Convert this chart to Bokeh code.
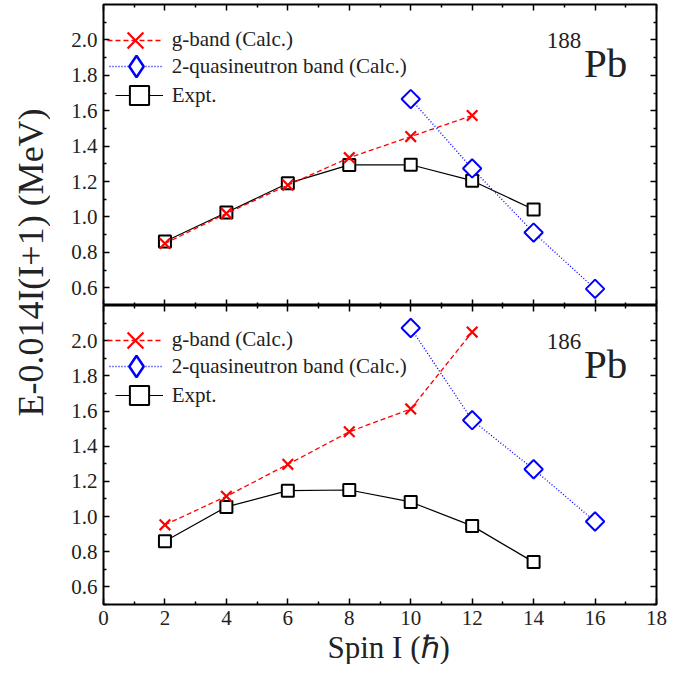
import math
from bokeh.plotting import figure
from bokeh.layouts import row, column
from bokeh.models import (LinearAxis, FixedTicker, NumeralTickFormatter, Legend,
                          LegendItem, Label, Range1d, Title)
from bokeh.embed import file_html
from bokeh.resources import INLINE

# ---------------- data ----------------
spin_expt = [2, 4, 6, 8, 10, 12, 14]
spin_g = [2, 4, 6, 8, 10, 12]
spin_q = [10, 12, 14, 16]

# 188Pb
e_expt_188 = [0.861, 1.025, 1.19, 1.294, 1.295, 1.205, 1.042]
e_g_188 = [0.85, 1.02, 1.18, 1.335, 1.454, 1.573]
e_q_188 = [1.666, 1.274, 0.912, 0.594]

# 186Pb
e_expt_186 = [0.86, 1.055, 1.147, 1.151, 1.083, 0.947, 0.741]
e_g_186 = [0.953, 1.115, 1.297, 1.482, 1.612, 2.049]
e_q_186 = [2.072, 1.548, 1.269, 0.972]

x_major = [0, 2, 4, 6, 8, 10, 12, 14, 16, 18]
x_minor = [1, 3, 5, 7, 9, 11, 13, 15, 17]
y_major = [0.6, 0.8, 1.0, 1.2, 1.4, 1.6, 1.8, 2.0]
y_minor = [0.5, 0.7, 0.9, 1.1, 1.3, 1.5, 1.7, 1.9, 2.1]

labels = ["g-band (Calc.)", "2-quasineutron band (Calc.)", "Expt."]
nuclei = ["188", "186"]
x_title = "Spin I (\u210f)"
y_title = "E-0.014I(I+1) (MeV)"

SERIF = "Liberation Serif"
TXT = "#222222"
x_range = Range1d(0, 18)

TITLE_W = 50
FRAME_LEFT = 53
FRAME_W = 553
RIGHT_B = 16
PANEL_W = FRAME_LEFT + FRAME_W + RIGHT_B


def style_axis(ax, ticker, show_labels, fmt=None):
    ax.ticker = ticker
    ax.axis_line_color = None
    ax.major_tick_in = 6
    ax.major_tick_out = 0
    ax.minor_tick_in = 3
    ax.minor_tick_out = 0
    ax.major_tick_line_width = 1.5
    ax.minor_tick_line_width = 1.5
    ax.major_tick_line_color = "black"
    ax.minor_tick_line_color = "black"
    ax.axis_label = None
    if show_labels:
        ax.major_label_text_font = SERIF
        ax.major_label_text_font_size = "21px"
        ax.major_label_text_color = TXT
        ax.major_label_standoff = 6
        if fmt is not None:
            ax.formatter = fmt
    else:
        ax.major_label_text_font_size = "0px"
        ax.major_label_text_color = None
        ax.major_label_standoff = 0


def make_panel(e_expt, e_g, e_q, nucleus, bottom):
    frame_h = 300 if bottom else 301
    b_top = 0 if bottom else 4
    b_bot = 59 if bottom else 0
    p = figure(width=PANEL_W, height=b_top + frame_h + b_bot,
               x_range=x_range, y_range=Range1d(0.5, 2.2),
               x_axis_location=None, y_axis_location=None,
               toolbar_location=None, output_backend="svg",
               min_border_left=FRAME_LEFT, min_border_right=RIGHT_B,
               min_border_top=b_top, min_border_bottom=b_bot,
               background_fill_color="white", border_fill_color="white",
               outline_line_color="black", outline_line_width=2)
    p.grid.visible = False

    left = LinearAxis()
    style_axis(left, FixedTicker(ticks=y_major, minor_ticks=y_minor), True,
               NumeralTickFormatter(format="0.0"))
    p.add_layout(left, "left")
    right = LinearAxis()
    style_axis(right, FixedTicker(ticks=y_major, minor_ticks=y_minor), False)
    p.add_layout(right, "right")
    top = LinearAxis()
    style_axis(top, FixedTicker(ticks=x_major, minor_ticks=x_minor), False)
    p.add_layout(top, "above")
    below = LinearAxis()
    style_axis(below, FixedTicker(ticks=x_major, minor_ticks=x_minor), bottom)
    p.add_layout(below, "below")

    # Expt (drawn first)
    l_e = p.line(spin_expt, e_expt, line_color="black", line_width=1.2)
    s_e = p.scatter(spin_expt, e_expt, marker="square", size=12,
                    line_color="black", line_width=2, fill_color="white")
    # g-band
    l_g = p.line(spin_g, e_g, line_color="#ff0000", line_width=1.3,
                 line_dash="5 3")
    s_g = p.scatter(spin_g, e_g, marker="x", size=15, line_color="#ff0000",
                    line_width=2.2)
    # 2-quasineutron band
    l_q = p.line(spin_q, e_q, line_color="#0000ff", line_width=1.3,
                 line_dash="1 2")
    s_q = p.scatter(spin_q, e_q, marker="square", size=13, angle=math.pi / 4,
                    line_color="#0000ff", line_width=2, fill_color="white")
    # hidden copy with a diamond marker, used only for the legend symbol
    s_q_leg = p.scatter(spin_q, e_q, marker="diamond", line_color="#0000ff",
                        line_width=2.5, fill_color="white", visible=False)

    items = [([l_g, s_g], labels[0], 35.5, 56),
             ([l_q, s_q_leg], labels[1], 62.0, 54),
             ([l_e, s_e], labels[2], 91.0, 48)]
    for rends, lab, off, G in items:
        leg = Legend(items=[LegendItem(label=lab, renderers=rends)],
                     location=(59.7 - G, frame_h - off - G / 2), margin=0,
                     padding=0, spacing=0, glyph_width=G, glyph_height=G,
                     label_standoff=9, label_text_font=SERIF,
                     label_text_font_size="21px", label_text_color=TXT,
                     background_fill_alpha=0, border_line_alpha=0)
        p.add_layout(leg, "center")

    p.add_layout(Label(x=15.55, y=1.995, text=nucleus, text_align="right",
                       text_baseline="alphabetic", text_font=SERIF,
                       text_font_size="23px", text_color=TXT))
    p.add_layout(Label(x=15.64, y=1.867, text="Pb", text_align="left",
                       text_baseline="alphabetic", text_font=SERIF,
                       text_font_size="41px", text_color=TXT))
    if bottom:
        p.add_layout(Title(text=x_title, align="left", offset=224,
                           standoff=0, text_font=SERIF,
                           text_font_size="31px", text_font_style="normal",
                           text_color=TXT), "below")
    return p


p_top = make_panel(e_expt_188, e_g_188, e_q_188, nuclei[0], False)
p_bot = make_panel(e_expt_186, e_g_186, e_q_186, nuclei[1], True)

p_yt = figure(width=TITLE_W, height=p_top.height + p_bot.height,
              x_range=(0, 1), y_range=(0, 1),
              x_axis_location=None, y_axis_location=None,
              toolbar_location=None, output_backend="svg", min_border=0,
              outline_line_color=None, background_fill_color="white",
              border_fill_color="white")
p_yt.grid.visible = False
p_yt.add_layout(Label(x=30, y=402, x_units="screen", y_units="screen",
                      angle=math.pi / 2, text=y_title,
                      text_align="center", text_baseline="middle",
                      text_font=SERIF, text_font_size="36px",
                      text_color=TXT))

layout = row(p_yt, column(p_top, p_bot, spacing=0), spacing=0)

with open("out.html", "w") as f:
    f.write(file_html(layout, INLINE))
